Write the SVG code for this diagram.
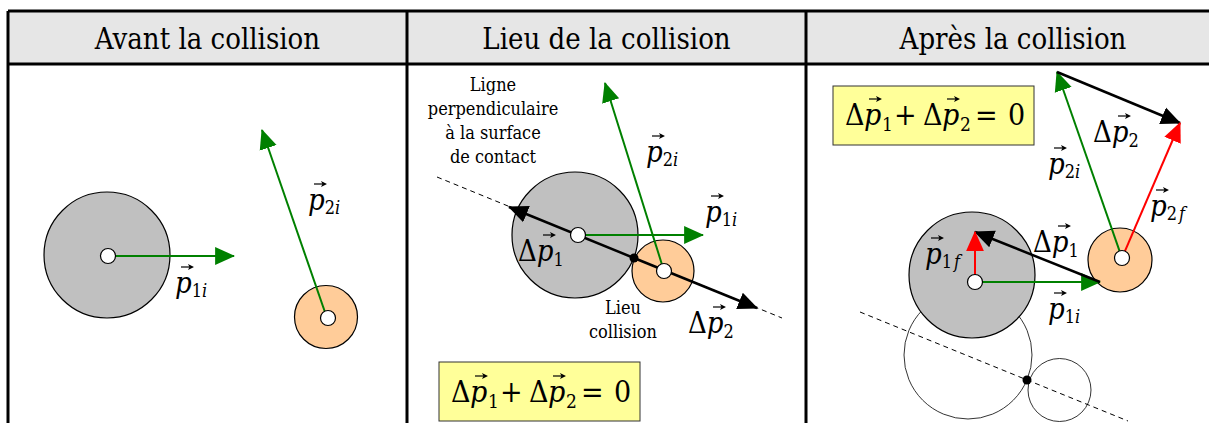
<svg xmlns="http://www.w3.org/2000/svg" width="1209" height="423" viewBox="0 0 1209 423">
<defs>
<style>
text{font-family:'DejaVu Serif Condensed','DejaVu Serif',serif;font-stretch:condensed}
.hdr{font-size:29px;text-anchor:middle;fill:#000}
.m{font-size:29px;fill:#000}
.it{font-style:italic}
.sub{font-size:18px}
.note{font-size:18px;text-anchor:middle;fill:#000}
.eq{font-size:30px;fill:#000}
.gray{fill:#c0c0c0;stroke:#000;stroke-width:1.2}
.orange{fill:#ffcc99;stroke:#000;stroke-width:1.2}
.dot{fill:#fff;stroke:#000;stroke-width:1.2}
.ghost{fill:none;stroke:#000;stroke-width:0.8}
.dash{fill:none;stroke:#000;stroke-width:1;stroke-dasharray:5 4}
.g{fill:none;stroke:#008000;stroke-width:2;marker-end:url(#ag)}
.k{fill:none;stroke:#000;stroke-width:2.5;marker-end:url(#ak)}
.r{fill:none;stroke:#ff0000;stroke-width:2;marker-end:url(#ar)}
.box{fill:#ffff99;stroke:#333;stroke-width:1}
.grid{fill:none;stroke:#000;stroke-width:3}
</style>
<marker id="ag" markerUnits="userSpaceOnUse" markerWidth="20" markerHeight="20" viewBox="0 0 18 16" refX="17" refY="8" orient="auto"><path d="M0,0 L18,8 L0,16 z" fill="#008000"/></marker>
<marker id="ak" markerUnits="userSpaceOnUse" markerWidth="20" markerHeight="20" viewBox="0 0 18 16" refX="17" refY="8" orient="auto"><path d="M0,0 L18,8 L0,16 z" fill="#000"/></marker>
<marker id="ar" markerUnits="userSpaceOnUse" markerWidth="20" markerHeight="20" viewBox="0 0 18 16" refX="17" refY="8" orient="auto"><path d="M0,0 L18,8 L0,16 z" fill="#ff0000"/></marker>
<g id="vec"><path d="M0,0 H11" fill="none" stroke="#000" stroke-width="1.2"/><path d="M13,0 L7,-3 L8.5,0 L7,3 z" fill="#000"/></g>
</defs>

<g id="table">
<rect x="8" y="11" width="1210" height="53" fill="#e6e6e6"/>
<path class="grid" d="M8,11 H1209 M8,64 H1209 M8,11 V423 M407,11 V423 M806,11 V423"/>
<text class="hdr" x="207.5" y="49">Avant la collision</text>
<text class="hdr" x="606.5" y="49">Lieu de la collision</text>
<text class="hdr" x="1013" y="49">Après la collision</text>
</g>

<g id="panel-avant">
<g id="avant-ball1"><circle class="gray" cx="107" cy="255" r="63"/></g>
<g id="avant-ball2"><circle class="orange" cx="326" cy="317" r="31.5"/></g>
<g id="avant-connectors">
<path class="g" d="M108,256 L234,256"/>
<path class="g" d="M327,318 L262,130"/>
</g>
<circle class="dot" cx="108" cy="256" r="7.5"/>
<circle class="dot" cx="328" cy="318" r="7.5"/>
<text class="m" x="175" y="293"><tspan class="it">p</tspan><tspan class="sub" dy="4">1</tspan><tspan class="sub it">i</tspan></text>
<use href="#vec" x="181" y="267"/>
<text class="m" x="308" y="210"><tspan class="it">p</tspan><tspan class="sub" dy="4">2</tspan><tspan class="sub it">i</tspan></text>
<use href="#vec" x="314" y="184"/>
</g>

<g id="panel-lieu">
<path class="dash" d="M437,177 L782,318"/>
<g id="lieu-ball1"><circle class="gray" cx="575" cy="235" r="63"/></g>
<g id="lieu-ball2"><circle class="orange" cx="663" cy="271" r="31"/></g>
<g id="lieu-connectors">
<path class="k" d="M634,258 L509,207"/>
<path class="k" d="M634,258 L757,308"/>
<path class="g" d="M579,235 L703,235"/>
<path class="g" d="M664,271 L605,83"/>
</g>
<circle cx="634" cy="258" r="4.5" fill="#000"/>
<circle class="dot" cx="578" cy="235" r="7.5"/>
<circle class="dot" cx="664" cy="271" r="7.5"/>
<text class="note" x="493" y="91">Ligne</text>
<text class="note" x="493" y="115">perpendiculaire</text>
<text class="note" x="493" y="139">à la surface</text>
<text class="note" x="493" y="163">de contact</text>
<text class="note" x="623" y="314">Lieu</text>
<text class="note" x="623" y="338">collision</text>
<text class="m" x="646" y="162"><tspan class="it">p</tspan><tspan class="sub" dy="4">2</tspan><tspan class="sub it">i</tspan></text>
<use href="#vec" x="652" y="136"/>
<text class="m" x="705" y="222"><tspan class="it">p</tspan><tspan class="sub" dy="4">1</tspan><tspan class="sub it">i</tspan></text>
<use href="#vec" x="711" y="196"/>
<text class="m" x="518" y="261">Δ<tspan class="it">p</tspan><tspan class="sub" dy="5">1</tspan></text>
<use href="#vec" x="543" y="235"/>
<text class="m" x="688" y="333">Δ<tspan class="it">p</tspan><tspan class="sub" dy="5">2</tspan></text>
<use href="#vec" x="713" y="307"/>
<g id="lieu-eq">
<rect class="box" x="439" y="362" width="201" height="59"/>
<text class="eq" y="402"><tspan x="451">Δ</tspan><tspan class="it" x="470">p</tspan><tspan x="488" dy="6" font-size="19">1</tspan><tspan x="500" dy="-6">+</tspan><tspan x="529">Δ</tspan><tspan class="it" x="548">p</tspan><tspan x="566" dy="6" font-size="19">2</tspan><tspan x="581" dy="-6">=</tspan><tspan x="614">0</tspan></text>
<use href="#vec" x="475" y="376"/>
<use href="#vec" x="553" y="376"/>
</g>
</g>

<g id="panel-apres">
<path class="dash" d="M860,312 L1128,421"/>
<g id="apres-ghost1"><circle class="ghost" cx="968" cy="355" r="64"/></g>
<g id="apres-ghost2"><circle class="ghost" cx="1059.5" cy="390" r="31.5"/></g>
<circle cx="1027" cy="380" r="4.5" fill="#000"/>
<g id="apres-ball1"><circle class="gray" cx="972" cy="275" r="63"/></g>
<g id="apres-ball2"><circle class="orange" cx="1120" cy="260" r="32"/></g>
<g id="apres-connectors">
<path class="g" d="M975,282 L1100,282"/>
<path class="k" d="M1100,282 L975,232"/>
<path class="r" d="M975,282 L975,232"/>
<path class="g" d="M1122,258 L1057,72"/>
<path class="k" d="M1057,72 L1180,123"/>
<path class="r" d="M1122,258 L1180,123"/>
</g>
<circle class="dot" cx="975" cy="282" r="7.5"/>
<circle class="dot" cx="1122" cy="258" r="7.5"/>
<text class="m" x="1093" y="142">Δ<tspan class="it">p</tspan><tspan class="sub" dy="5">2</tspan></text>
<use href="#vec" x="1118" y="116"/>
<text class="m" x="1048" y="174"><tspan class="it">p</tspan><tspan class="sub" dy="4">2</tspan><tspan class="sub it">i</tspan></text>
<use href="#vec" x="1054" y="148"/>
<text class="m" x="1150" y="216"><tspan class="it">p</tspan><tspan class="sub" dy="4">2</tspan><tspan class="sub it" dx="2">f</tspan></text>
<use href="#vec" x="1156" y="190"/>
<text class="m" x="1033" y="252">Δ<tspan class="it">p</tspan><tspan class="sub" dy="5">1</tspan></text>
<use href="#vec" x="1058" y="226"/>
<text class="m" x="925" y="264"><tspan class="it">p</tspan><tspan class="sub" dy="4">1</tspan><tspan class="sub it" dx="2">f</tspan></text>
<use href="#vec" x="931" y="238"/>
<text class="m" x="1048" y="319"><tspan class="it">p</tspan><tspan class="sub" dy="4">1</tspan><tspan class="sub it">i</tspan></text>
<use href="#vec" x="1054" y="293"/>
<g id="apres-eq">
<rect class="box" x="833" y="86" width="201" height="59"/>
<text class="eq" y="125"><tspan x="845">Δ</tspan><tspan class="it" x="864">p</tspan><tspan x="882" dy="6" font-size="19">1</tspan><tspan x="894" dy="-6">+</tspan><tspan x="923">Δ</tspan><tspan class="it" x="942">p</tspan><tspan x="960" dy="6" font-size="19">2</tspan><tspan x="975" dy="-6">=</tspan><tspan x="1008">0</tspan></text>
<use href="#vec" x="869" y="99"/>
<use href="#vec" x="947" y="99"/>
</g>
</g>
</svg>
